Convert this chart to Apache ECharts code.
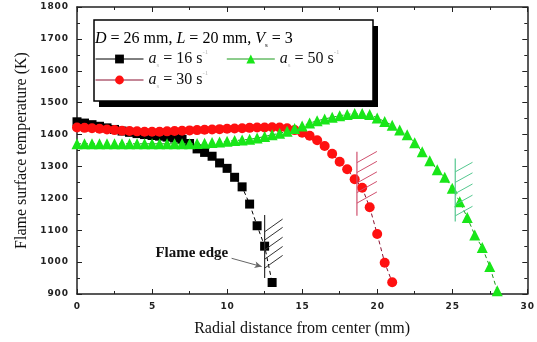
<!DOCTYPE html>
<html><head><meta charset="utf-8">
<script src="https://cdn.jsdelivr.net/npm/echarts@6/dist/echarts.min.js"></script>
<style>html,body{margin:0;padding:0;background:#fff;}#c{width:537px;height:342px;}</style>
</head><body><div id="c"></div>
<script>
// ---- data ----
const xBlack = [0,0.5,1,1.5,2,2.5,3,3.5,4,4.5,5,5.5,6,6.5,7,7.5,8,8.5,9,9.5,10,10.5,11,11.5,12,12.5,13];
const tBlack = [1440,1436,1431,1426,1421,1416,1411,1407,1403,1400,1397,1395,1392,1389,1385,1372,1355,1344,1332,1311,1294,1266,1236,1182,1114,1050,936];
const xRed = [0,0.5,1,1.5,2,2.5,3,3.5,4,4.5,5,5.5,6,6.5,7,7.5,8,8.5,9,9.5,10,10.5,11,11.5,12,12.5,13,13.5,14,14.5,15,15.5,16,16.5,17,17.5,18,18.5,19,19.5,20,20.5,21];
const tRed = [1422,1421,1420,1418,1416,1414,1412,1411,1410,1409,1409,1409,1410,1411,1412,1413,1414,1415,1416,1417,1418,1419,1420,1421,1422,1422,1423,1422,1420,1414,1406,1396,1382,1364,1340,1315,1291,1260,1233,1172,1088,998,937];
const xGreen = [0,0.5,1,1.5,2,2.5,3,3.5,4,4.5,5,5.5,6,6.5,7,7.5,8,8.5,9,9.5,10,10.5,11,11.5,12,12.5,13,13.5,14,14.5,15,15.5,16,16.5,17,17.5,18,18.5,19,19.5,20,20.5,21,21.5,22,22.5,23,23.5,24,24.5,25,25.5,26,26.5,27,27.5,28];
const tGreen = [1371,1371,1371,1371,1371,1371,1371,1371,1371,1371,1371,1371,1371,1371,1371,1371,1372,1373,1375,1377,1379,1381,1383,1385,1389,1394,1399,1404,1410,1419,1427,1436,1443,1449,1454,1459,1463,1466,1466,1463,1452,1441,1429,1414,1399,1374,1346,1318,1290,1266,1232,1189,1140,1085,1046,986,910];
const seriesNames = ['a16','a30','a50'];
const seriesLabels = {
  a16: '{i|a}{sub|s}{t| = 16 s}{sup|-1}',
  a30: '{i|a}{sub|s}{t| = 30 s}{sup|-1}',
  a50: '{i|a}{sub|s}{t| = 50 s}{sup|-1}'
};
const headerText = '{i|D}{t| = 26 mm, }{i|L}{t| = 20 mm, }{i|V}{sub|s}{t| = 3}';
// flame-edge hatch annotations: [x, lowT, highT]
const edgeX = [12.5, 18.65, 25.2];
const edgeLow = [950, 1145, 1127];
const edgeHigh = [1148, 1346, 1325];
const hatchStarts = [[1095,1069,1038,1009,981],[1312,1281,1248,1218,1185],[1283,1250,1215,1180,1145]];
const hatchDx = [1.2, 1.33, 1.15];
const hatchDt = [40, 35, 30];
const arrowFrom = [10.3, 1012];
const arrowTo = [12.3, 986];
const edgeLabelPos = [7.65, 1028];
const edgeLabel = 'Flame edge';
const xTitle = 'Radial distance from center (mm)';
const yTitle = 'Flame surface temperature (K)';

// ---- chart ----
const zip = (xs, ys) => xs.map((x, i) => [x, ys[i]]);
const spaced = v => String(v).split('').join('\u200A');
const hatchColors = ['#333333', '#d0506e', '#55c890'];
const rich = {
  i: {fontFamily: 'Liberation Serif', fontStyle: 'italic', fontSize: 16, color: '#111', lineHeight: 20},
  t: {fontFamily: 'Liberation Serif', fontSize: 16, color: '#111', lineHeight: 20},
  sub: {fontFamily: 'Liberation Serif', fontSize: 7, color: '#bbb', lineHeight: 8, verticalAlign: 'bottom'},
  sup: {fontFamily: 'Liberation Serif', fontSize: 7, color: '#bbb', lineHeight: 8, verticalAlign: 'top'}
};
const axisCommon = {
  type: 'value',
  axisLine: {show: true, onZero: false, lineStyle: {color: '#222', width: 1.5}},
  axisTick: {show: true, inside: true, length: 5, lineStyle: {color: '#222', width: 1}},
  minorTick: {show: true, splitNumber: 2, length: 3, lineStyle: {color: '#222', width: 1}},
  splitLine: {show: false},
  minorSplitLine: {show: false}
};
const labelStyle = {fontFamily: 'DejaVu Sans', fontWeight: 'bold', fontSize: 9, color: '#222', formatter: spaced};

const chart = echarts.init(document.getElementById('c'), null, {renderer: 'canvas'});
const option = {
  animation: false,
  backgroundColor: '#fff',
  grid: {left: 77, right: 9, top: 7, bottom: 48, containLabel: false},
  xAxis: [
    Object.assign({}, axisCommon, {min: 0, max: 30, interval: 5, position: 'bottom',
      axisLabel: Object.assign({margin: 8}, labelStyle),
      name: xTitle, nameLocation: 'middle', nameGap: 27,
      nameTextStyle: {fontFamily: 'Liberation Serif', fontSize: 16, color: '#111'}}),
    Object.assign({}, axisCommon, {min: 0, max: 30, interval: 5, position: 'top', axisLabel: {show: false}})
  ],
  yAxis: [
    Object.assign({}, axisCommon, {min: 900, max: 1800, interval: 100, position: 'left',
      axisLabel: Object.assign({margin: 9}, labelStyle),
      name: yTitle, nameLocation: 'middle', nameGap: 40, nameRotate: 90,
      nameTextStyle: {fontFamily: 'Liberation Serif', fontSize: 16, color: '#111'}}),
    Object.assign({}, axisCommon, {min: 900, max: 1800, interval: 100, position: 'right', axisLabel: {show: false}})
  ],
  legend: [
    {data: ['a16', 'a50'], left: 95, top: 49, padding: 0, itemWidth: 48, itemHeight: 11, itemGap: 18, z: 10,
      formatter: n => seriesLabels[n], textStyle: {rich: rich}, lineStyle: {type: 'solid', width: 1},
      selectedMode: false},
    {data: ['a30'], left: 95, top: 70, padding: 0, itemWidth: 48, itemHeight: 11, z: 10,
      formatter: n => seriesLabels[n], textStyle: {rich: rich}, lineStyle: {type: 'solid', width: 1},
      selectedMode: false}
  ],
  graphic: [
    {type: 'rect', z: 1, shape: {x: 99, y: 26, width: 279, height: 81}, style: {fill: '#000'}},
    {type: 'rect', z: 2, shape: {x: 94, y: 20, width: 279, height: 81}, style: {fill: '#fff', stroke: '#000', lineWidth: 1.5}},
    {type: 'text', z: 11, left: 95, top: 31, style: {text: headerText, rich: rich}}
  ],
  series: [
    {name: 'a16', type: 'line', data: zip(xBlack, tBlack), symbol: 'rect', symbolSize: 9,
      itemStyle: {color: '#000'}, lineStyle: {color: '#000', width: 1, type: [4, 3]}, z: 3,
      markLine: {silent: true, symbol: ['none', 'arrow'], symbolSize: [5, 7],
        lineStyle: {color: '#666', width: 1, type: 'solid'}, label: {show: false},
        data: [[{coord: arrowFrom}, {coord: arrowTo}]]},
      markPoint: {silent: true, symbol: 'rect', symbolSize: 1, itemStyle: {color: 'rgba(0,0,0,0)'},
        label: {show: true, position: 'inside', formatter: edgeLabel,
          fontFamily: 'Liberation Serif', fontWeight: 'bold', fontSize: 15, color: '#111'},
        data: [{coord: edgeLabelPos}]}},
    {name: 'a30', type: 'line', data: zip(xRed, tRed), symbol: 'circle', symbolSize: 10,
      itemStyle: {color: '#ff1010'}, lineStyle: {color: '#8a1030', width: 1, type: [4, 3]}, z: 4},
    {name: 'a50', type: 'line', data: zip(xGreen, tGreen), symbol: 'triangle', symbolSize: 11,
      itemStyle: {color: '#19e619'}, lineStyle: {color: '#1a9a1a', width: 1, type: [4, 3]}, z: 5},
    {name: 'edges', type: 'custom', z: 6, silent: true,
      data: edgeX.map((x, i) => [x, edgeLow[i]]),
      renderItem: function (params, api) {
        const i = params.dataIndex;
        const c = hatchColors[i];
        const a = api.coord([edgeX[i], edgeLow[i]]);
        const b = api.coord([edgeX[i], edgeHigh[i]]);
        const children = [{type: 'line', shape: {x1: a[0], y1: a[1], x2: b[0], y2: b[1]}, style: {stroke: c, lineWidth: 1.2}}];
        hatchStarts[i].forEach(t => {
          const p = api.coord([edgeX[i], t]);
          const q = api.coord([edgeX[i] + hatchDx[i], t + hatchDt[i]]);
          children.push({type: 'line', shape: {x1: p[0], y1: p[1], x2: q[0], y2: q[1]}, style: {stroke: c, lineWidth: 1}});
        });
        return {type: 'group', children: children};
      }}
  ]
};
chart.setOption(option);
</script></body></html>
